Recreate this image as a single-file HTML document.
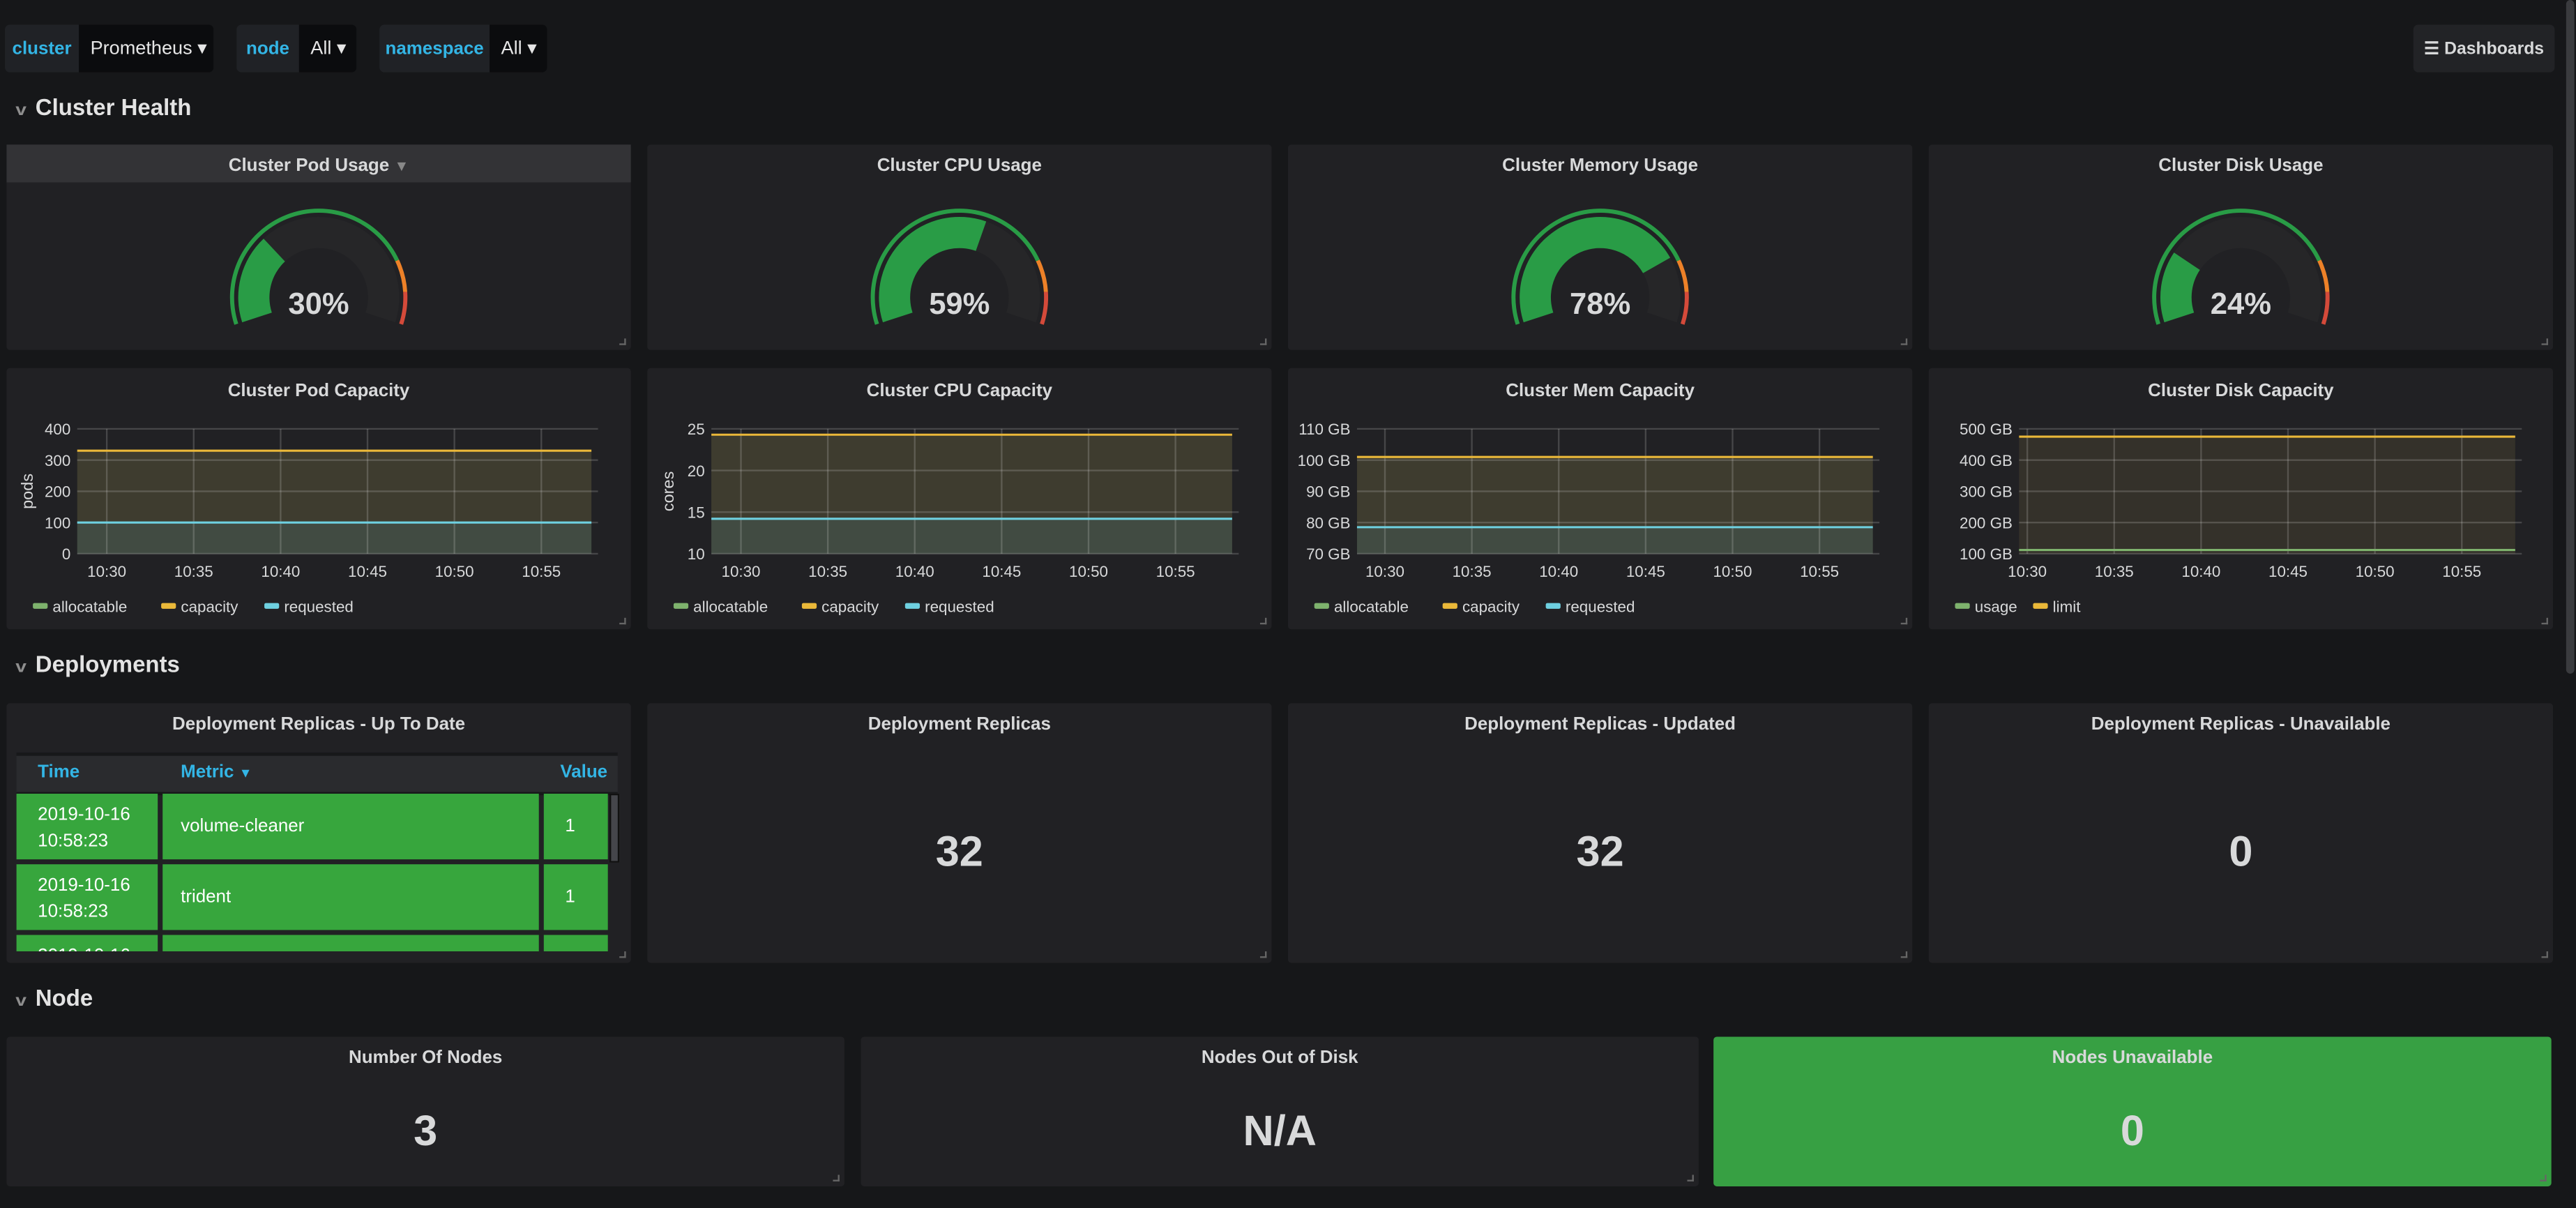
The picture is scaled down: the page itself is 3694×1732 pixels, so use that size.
<!DOCTYPE html>
<html><head><meta charset="utf-8">
<style>
html,body{margin:0;padding:0;background:#161719;width:3694px;height:1732px;overflow:hidden}
#root{position:absolute;left:0;top:0;width:1568px;height:735px;transform:scale(2.35587);transform-origin:0 0;font-family:"Liberation Sans",sans-serif;color:#d8d9da}
.abs{position:absolute}
.panel{position:absolute;background:#212124;border-radius:2px}
.title{position:absolute;left:0;right:0;text-align:center;font-size:11px;font-weight:bold;color:#d8d9da}
.row{position:absolute;left:10px;font-size:14px;font-weight:bold;color:#e3e3e3}
.row span{display:inline-block;font-size:10px;color:#8e8e8e;margin-right:6px;transform:scaleX(1.2)}
.var{position:absolute;top:15px;height:29px;border-radius:3px;background:#202226;font-size:11px;line-height:31px}
.var .l{position:absolute;left:0;top:0;bottom:0;color:#33b5e5;text-align:center;font-weight:bold}
.var .v{position:absolute;top:0;bottom:0;right:0;background:#0b0c0e;color:#e6e6e6;padding-left:7px;font-size:11.5px;border-radius:0 3px 3px 0}
.stat{position:absolute;left:0;right:0;text-align:center;font-size:26px;font-weight:bold;color:#d8d9da}
.corner{position:absolute;right:3px;bottom:3px;width:3px;height:3px;border-right:1.5px solid #666;border-bottom:1.5px solid #666}
</style></head><body>
<div id="root">
<div class="var" style="left:3px;width:127px"><div class="l" style="width:45px">cluster</div><div class="v" style="left:45px">Prometheus ▾</div></div>
<div class="var" style="left:144px;width:73px"><div class="l" style="width:38px">node</div><div class="v" style="left:38px">All ▾</div></div>
<div class="var" style="left:231px;width:102px"><div class="l" style="width:67px">namespace</div><div class="v" style="left:67px">All ▾</div></div>
<div class="abs" style="left:1469px;top:15px;width:86px;height:29px;background:#222326;border-radius:3px;font-size:10.5px;font-weight:bold;line-height:31px;text-align:center">☰ Dashboards</div>
<div class="abs" style="left:1562px;top:0;width:5px;height:410px;background:#3a3b3e;border-radius:3px"></div>

<div class="row" style="top:57px"><span>v</span>Cluster Health</div>
<div class="row" style="top:396px"><span>v</span>Deployments</div>
<div class="row" style="top:599px"><span>v</span>Node</div>
<div id="dyn"></div>
</div>
<script>
var H='';
function P(x,y,w,h,inner,bg){H+='<div class="panel" style="left:'+x+'px;top:'+y+'px;width:'+w+'px;height:'+h+'px;'+(bg?'background:'+bg:'')+'">'+inner+'<div class="corner"></div></div>';}
function pt(cx,cy,r,a){a=a*Math.PI/180;return (cx+r*Math.sin(a)).toFixed(2)+','+(cy-r*Math.cos(a)).toFixed(2);}
function band(cx,cy,r1,r2,a1,a2,c){var lg=(a2-a1)>180?1:0;return '<path d="M'+pt(cx,cy,r2,a1)+' A'+r2+','+r2+' 0 '+lg+' 1 '+pt(cx,cy,r2,a2)+' L'+pt(cx,cy,r1,a2)+' A'+r1+','+r1+' 0 '+lg+' 0 '+pt(cx,cy,r1,a1)+'Z" fill="'+c+'"/>';}
var titles=['Cluster Pod Usage','Cluster CPU Usage','Cluster Memory Usage','Cluster Disk Usage'],vals=[30,59,78,24];
var xs=[4,394,784,1174];
for(var i=0;i<4;i++){
 var cx=190,cy=93,S=108,sp=2*S;
 var s='<svg class="abs" style="left:0;top:0" width="380" height="125">';
 s+=band(cx,cy,30,49,-S,S,'#262628');
 s+=band(cx,cy,30,49,-S,-S+sp*vals[i]/100,'#299c46');
 s+=band(cx,cy,51.5,54,-S,-S+sp*0.8,'#299c46');
 s+=band(cx,cy,51.5,54,-S+sp*0.8,-S+sp*0.9,'#ed8128');
 s+=band(cx,cy,51.5,54,-S+sp*0.9,S,'#d44a3a');
 s+='<text x="'+cx+'" y="'+(cy+10)+'" text-anchor="middle" font-family="Liberation Sans,sans-serif" font-weight="bold" font-size="18.5" fill="#d8d9da">'+vals[i]+'%</text></svg>';
 var hdr=i==0?'<div class="abs" style="left:0;top:0;width:380px;height:23px;background:#333336"></div>':'';
 P(xs[i],88,380,125,hdr+s+'<div class="title" style="top:7px">'+titles[i]+(i==0?' <span style="color:#888;font-size:9px">▼</span>':'')+'</div>');
}
var G=[
 {t:'Cluster Pod Capacity',x0:43,x1:360,t0:61,lab:['400','300','200','100','0'],mn:0,mx:400,ax:'pods',
  cap:330,req:100,leg:[['#7eb26d','allocatable'],['#eab839','capacity'],['#6ed0e0','requested']]},
 {t:'Cluster CPU Capacity',x0:39,x1:360,t0:57,lab:['25','20','15','10'],mn:10,mx:25,ax:'cores',
  cap:24.3,req:14.2,leg:[['#7eb26d','allocatable'],['#eab839','capacity'],['#6ed0e0','requested']]},
 {t:'Cluster Mem Capacity',x0:42,x1:360,t0:59,lab:['110 GB','100 GB','90 GB','80 GB','70 GB'],mn:70,mx:110,
  cap:101,req:78.5,leg:[['#7eb26d','allocatable'],['#eab839','capacity'],['#6ed0e0','requested']]},
 {t:'Cluster Disk Capacity',x0:55,x1:361,t0:60,lab:['500 GB','400 GB','300 GB','200 GB','100 GB'],mn:100,mx:500,
  cap:475,req:112,disk:1,leg:[['#7eb26d','usage'],['#eab839','limit']]}
];
var tl=['10:30','10:35','10:40','10:45','10:50','10:55'];
for(var i=0;i<4;i++){
 var g=G[i],y0=37,y1=113,h=y1-y0;
 function Y(v){return y1-(v-g.mn)/(g.mx-g.mn)*h;}
 var s='<svg class="abs" style="left:0;top:0" width="380" height="159" font-family="Liberation Sans,sans-serif" font-size="9.5" fill="#d8d9da">';
 var xe=g.x1-4;
 if(g.disk){
  s+='<rect x="'+g.x0+'" y="'+Y(g.cap)+'" width="'+(xe-g.x0)+'" height="'+(y1-Y(g.cap))+'" fill="#34312a"/>';
 }else{
  s+='<rect x="'+g.x0+'" y="'+Y(g.cap)+'" width="'+(xe-g.x0)+'" height="'+(Y(g.req)-Y(g.cap))+'" fill="#3e3c2f"/>';
  s+='<rect x="'+g.x0+'" y="'+Y(g.req)+'" width="'+(xe-g.x0)+'" height="'+(y1-Y(g.req))+'" fill="#414b42"/>';
 }
 var n=g.lab.length;
 for(var k=0;k<n;k++){var yy=y0+k*h/(n-1);
  s+='<line x1="'+g.x0+'" x2="'+g.x1+'" y1="'+yy+'" y2="'+yy+'" stroke="rgba(255,255,255,0.17)" stroke-width="1"/>';
  s+='<text x="'+(g.x0-4)+'" y="'+(yy+3.5)+'" text-anchor="end">'+g.lab[k]+'</text>';}
 var sp=52.9;
 for(var k=0;k<6;k++){
  var X=g.t0+k*sp;
  s+='<line x1="'+X+'" x2="'+X+'" y1="'+y0+'" y2="'+y1+'" stroke="rgba(255,255,255,0.17)"/>';
  s+='<text x="'+X+'" y="'+(y1+14)+'" text-anchor="middle">'+tl[k]+'</text>';}
 s+='<line x1="'+g.x0+'" x2="'+xe+'" y1="'+Y(g.cap)+'" y2="'+Y(g.cap)+'" stroke="#eab839" stroke-width="1.3"/>';
 s+='<line x1="'+g.x0+'" x2="'+xe+'" y1="'+Y(g.req)+'" y2="'+Y(g.req)+'" stroke="'+(g.disk?'#7eb26d':'#6ed0e0')+'" stroke-width="1.3"/>';
 if(g.ax) s+='<text transform="translate(16,'+(y0+h/2)+') rotate(-90)" text-anchor="middle" font-size="10">'+g.ax+'</text>';
 var lx=16;
 for(var k=0;k<g.leg.length;k++){
  s+='<rect x="'+lx+'" y="143" width="9" height="3.5" rx="1" fill="'+g.leg[k][0]+'"/>';
  s+='<text x="'+(lx+12)+'" y="148.5" font-size="9.5">'+g.leg[k][1]+'</text>';
  lx+=12+g.leg[k][1].length*5.1+10;
 }
 s+='</svg>';
 P(xs[i],224,380,159,s+'<div class="title" style="top:8px">'+g.t+'</div>');
}
var t='<div class="title" style="top:7px">Deployment Replicas - Up To Date</div>';
t+='<div class="abs" style="left:6px;top:30px;width:366px;height:22px;background:#2a2b2e;border-top:2px solid #17181a;border-bottom:2px solid #17181a"></div>';
t+='<div class="abs" style="left:19px;top:36px;font-size:11px;font-weight:bold;color:#33b5e5">Time</div>';
t+='<div class="abs" style="left:106px;top:36px;font-size:11px;font-weight:bold;color:#33b5e5">Metric <span style="font-size:8px">▼</span></div>';
t+='<div class="abs" style="left:337px;top:36px;font-size:11px;font-weight:bold;color:#33b5e5">Value</div>';
var rows=[['volume-cleaner',55],['trident',98],['',141]];
t+='<div class="abs" style="left:6px;top:55px;width:362px;height:96px;overflow:hidden">';
for(var r=0;r<3;r++){var ty=rows[r][1]-55;
 t+='<div class="abs" style="left:0;top:'+ty+'px;width:86px;height:40px;background:#37a63d"></div>';
 t+='<div class="abs" style="left:89px;top:'+ty+'px;width:229px;height:40px;background:#37a63d"></div>';
 t+='<div class="abs" style="left:321px;top:'+ty+'px;width:39px;height:40px;background:#37a63d"></div>';
 t+='<div class="abs" style="left:13px;top:'+(ty+5)+'px;font-size:11px;line-height:16px;color:#fff">2019-10-16<br>10:58:23</div>';
 t+='<div class="abs" style="left:100px;top:'+(ty+14)+'px;font-size:11px;color:#fff">'+rows[r][0]+'</div>';
 if(r<2)t+='<div class="abs" style="left:334px;top:'+(ty+14)+'px;font-size:11px;color:#fff">1</div>';}
t+='</div><div class="abs" style="left:367px;top:55px;width:4px;height:40px;background:#45464b;border:1px solid #111"></div>';
P(4,428,380,158,t);
var st=[['Deployment Replicas','32'],['Deployment Replicas - Updated','32'],['Deployment Replicas - Unavailable','0']];
for(var i=0;i<3;i++)P(xs[i+1],428,380,158,'<div class="title" style="top:7px">'+st[i][0]+'</div><div class="stat" style="top:75px">'+st[i][1]+'</div>');
var nd=[[4,'Number Of Nodes','3'],[524,'Nodes Out of Disk','N/A'],[1043,'Nodes Unavailable','0']];
for(var i=0;i<3;i++)P(nd[i][0],631,510,91,'<div class="title" style="top:7px">'+nd[i][1]+'</div><div class="stat" style="top:42px">'+nd[i][2]+'</div>',i==2?'#37a043':'');
document.getElementById('dyn').innerHTML=H;
</script>
</body></html>
